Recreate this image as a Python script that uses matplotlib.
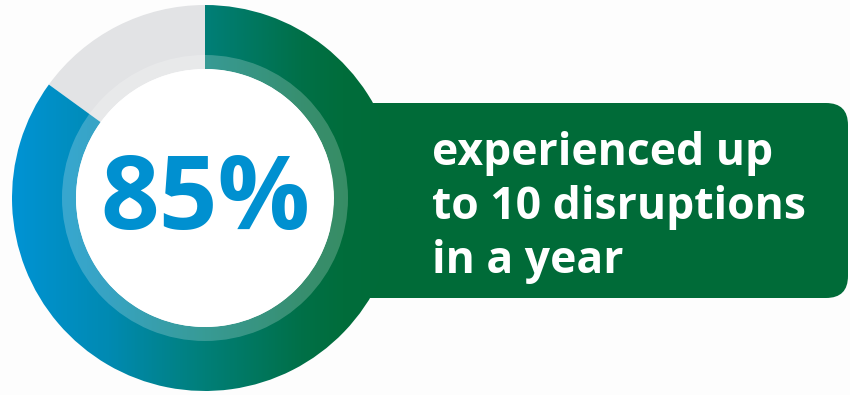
import numpy as np
import matplotlib
matplotlib.use("Agg")
import matplotlib.pyplot as plt
from matplotlib.patches import Wedge, FancyBboxPatch, Circle
from matplotlib.colors import LinearSegmentedColormap

# Data
share_pct = 85
rest_pct = 100 - share_pct
big_label = "85%"
caption_lines = ["experienced up", "to 10 disruptions", "in a year"]

W, H = 850, 395
fig = plt.figure(figsize=(W / 100, H / 100), dpi=100)
fig.patch.set_facecolor("#fdfdfd")
ax = fig.add_axes([0, 0, 1, 1])
ax.set_xlim(0, W)
ax.set_ylim(H, 0)
ax.set_aspect("equal")
ax.axis("off")

cx, cy = 205, 198
r_out, r_in = 193, 129
r_band = 143

green = "#006b38"

box = FancyBboxPatch((330, 103), 848 - 330, 298 - 103,
                     boxstyle="round,pad=0,rounding_size=22",
                     facecolor=green, edgecolor="none", zorder=1)
ax.add_patch(box)

top = -90  # 12 o'clock (y axis inverted, angles go clockwise visually)
share_deg = share_pct / 100 * 360
wedge_share = Wedge((cx, cy), r_out, top, top + share_deg, width=r_out - r_in,
                    facecolor="none", edgecolor="none", zorder=2)
ax.add_patch(wedge_share)
wedge_rest = Wedge((cx, cy), r_out, top + share_deg, top + 360, width=r_out - r_in,
                   facecolor="#e2e3e5", edgecolor="none", zorder=2)
ax.add_patch(wedge_rest)

cmap = LinearSegmentedColormap.from_list(
    "ring", [(0.0, "#0093d4"), (0.25, "#008ab2"), (0.5, "#007f78"),
             (0.75, "#007048"), (0.86, "#006d3b"), (1.0, "#006b38")])
grad = np.linspace(0, 1, 400).reshape(1, -1)
im = ax.imshow(grad, cmap=cmap, extent=(cx - r_out, cx + r_out, cy + r_out, cy - r_out),
               aspect="auto", zorder=2, interpolation="bilinear")
im.set_clip_path(wedge_share)

band = Wedge((cx, cy), r_band, 0, 360, width=r_band - r_in,
             facecolor="white", alpha=0.22, edgecolor="none", zorder=3)
ax.add_patch(band)

ax.add_patch(Circle((cx, cy), r_in, facecolor="white", edgecolor="none", zorder=3))

ax.text(cx, cy + 4, big_label, ha="center", va="center", color="#0090d0",
        fontsize=74, fontweight="bold", family="Open Sans", zorder=4)

for i, line in enumerate(caption_lines):
    ax.text(432, 154 + i * 54, line, ha="left", va="center", color="white",
            fontsize=32, fontweight="bold", family="Open Sans", zorder=4)

fig.savefig("out.png", dpi=100, facecolor=fig.get_facecolor())
